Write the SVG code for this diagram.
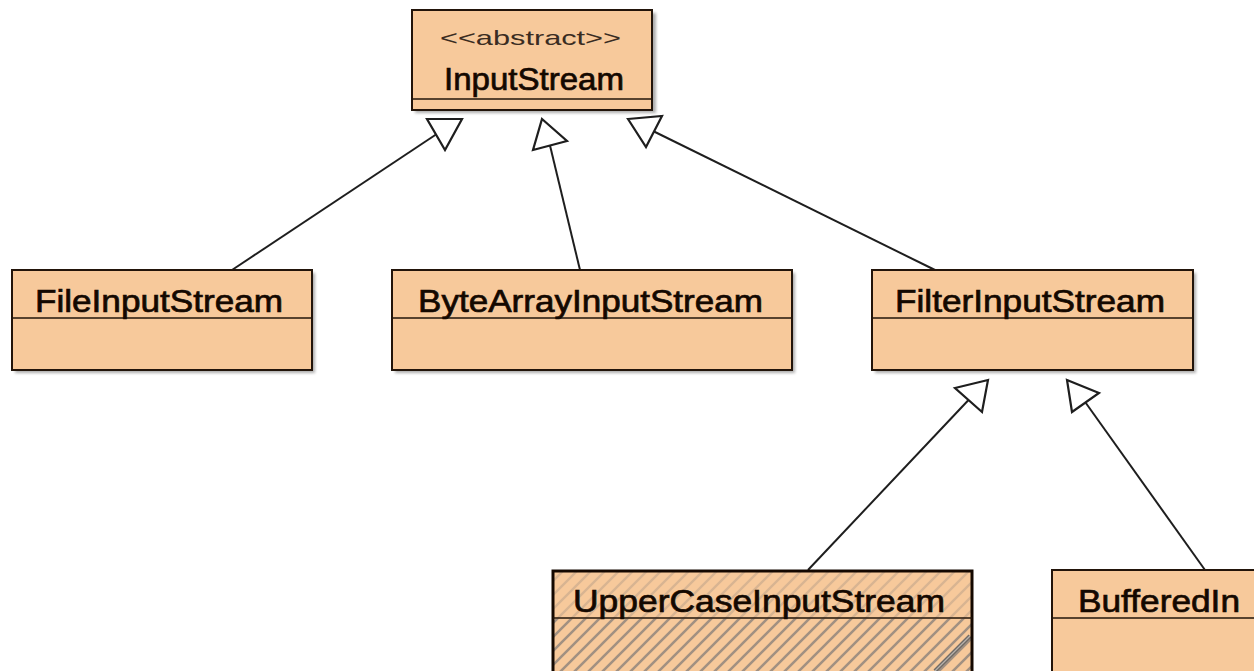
<svg xmlns="http://www.w3.org/2000/svg" width="1254" height="671" viewBox="0 0 1254 671">
<style>
.box{fill:#f7c99b;stroke:#22140a;stroke-width:2}
.sep{stroke:#22140a;stroke-width:1.6}
.sh{fill:#777777;opacity:0.6;filter:url(#blur)}
.t{font-family:"Liberation Sans",Arial,sans-serif;font-size:31px;fill:#140800;stroke:#140800;stroke-width:0.7;text-anchor:middle}
.st{font-family:"Liberation Sans",Arial,sans-serif;font-size:21px;fill:#3a2c22;text-anchor:middle}
.edge{stroke:#1e1e1e;stroke-width:2;fill:none}
.head{stroke:#1e1e1e;stroke-width:2.2;fill:#ffffff;stroke-linejoin:miter}
</style>
<defs>
<filter id="blur" x="-5%" y="-5%" width="110%" height="110%"><feGaussianBlur stdDeviation="1.5"/></filter>
<pattern id="hatch" patternUnits="userSpaceOnUse" width="14" height="14">
<path d="M-2,16 L16,-2 M-2,2 L2,-2 M12,16 L16,12" stroke="#8f847b" stroke-width="2.4"/>
</pattern>
</defs>
<rect width="1254" height="671" fill="#ffffff"/>

<g id="connectors">
<line class="edge" x1="232" y1="270" x2="436" y2="134.5"/>
<polygon class="head" points="462,119 427,119 445,150"/>
<line class="edge" x1="580" y1="270" x2="550" y2="145.5"/>
<polygon class="head" points="542,119 567,141 533,150"/>
<line class="edge" x1="935" y1="270" x2="654" y2="131.5"/>
<polygon class="head" points="628,119 662,116 646,147"/>
<line class="edge" x1="808" y1="570" x2="968.5" y2="400"/>
<polygon class="head" points="988,380 955,388 982,412"/>
<line class="edge" x1="1205" y1="570" x2="1085.5" y2="402.5"/>
<polygon class="head" points="1067,380 1099,393 1072,412"/>
</g>

<g id="InputStream">
<rect class="sh" x="415" y="13" width="241" height="100"/>
<rect class="box" x="412" y="10" width="240" height="100"/>
<line class="sep" x1="412" y1="99" x2="652" y2="99"/>
<text class="st" x="530.5" y="45" textLength="181" lengthAdjust="spacingAndGlyphs">&lt;&lt;abstract&gt;&gt;</text>
<text class="t" x="534" y="90" textLength="180" lengthAdjust="spacingAndGlyphs">InputStream</text>
</g>

<g id="FileInputStream">
<rect class="sh" x="15" y="273" width="300" height="100"/>
<rect class="box" x="12" y="270" width="300" height="100"/>
<line class="sep" x1="12" y1="318" x2="312" y2="318"/>
<text class="t" x="159" y="312" textLength="248" lengthAdjust="spacingAndGlyphs">FileInputStream</text>
</g>

<g id="ByteArrayInputStream">
<rect class="sh" x="395" y="273" width="400" height="100"/>
<rect class="box" x="392" y="270" width="400" height="100"/>
<line class="sep" x1="392" y1="318" x2="792" y2="318"/>
<text class="t" x="590.5" y="312" textLength="345" lengthAdjust="spacingAndGlyphs">ByteArrayInputStream</text>
</g>

<g id="FilterInputStream">
<rect class="sh" x="875" y="273" width="321" height="100"/>
<rect class="box" x="872" y="270" width="321" height="100"/>
<line class="sep" x1="872" y1="318" x2="1193" y2="318"/>
<text class="t" x="1030" y="312" textLength="270" lengthAdjust="spacingAndGlyphs">FilterInputStream</text>
</g>

<g id="UpperCaseInputStream">
<rect class="box" x="553" y="571" width="419" height="110" style="stroke:none"/>
<rect x="553" y="571" width="419" height="110" fill="url(#hatch)" opacity="0.3"/>
<rect x="553" y="619" width="419" height="62" fill="url(#hatch)" opacity="0.75"/>
<line x1="935" y1="671" x2="970" y2="636" stroke="#6f6a66" stroke-width="4"/>
<line x1="935" y1="671" x2="970" y2="636" stroke="#b8b2ac" stroke-width="1.2"/>
<rect x="553" y="571" width="419" height="110" fill="none" stroke="#140800" stroke-width="3"/>
<line class="sep" x1="553" y1="618" x2="972" y2="618"/>
<text class="t" x="759" y="612" textLength="372" lengthAdjust="spacingAndGlyphs">UpperCaseInputStream</text>
</g>

<g id="BufferedInputStream">
<rect class="sh" x="1055" y="573" width="220" height="110"/>
<rect class="box" x="1052" y="570" width="220" height="110"/>
<line class="sep" x1="1052" y1="618" x2="1254" y2="618"/>
<text class="t" x="1078" y="612" textLength="162" lengthAdjust="spacingAndGlyphs" style="text-anchor:start">BufferedIn</text>
</g>
</svg>
